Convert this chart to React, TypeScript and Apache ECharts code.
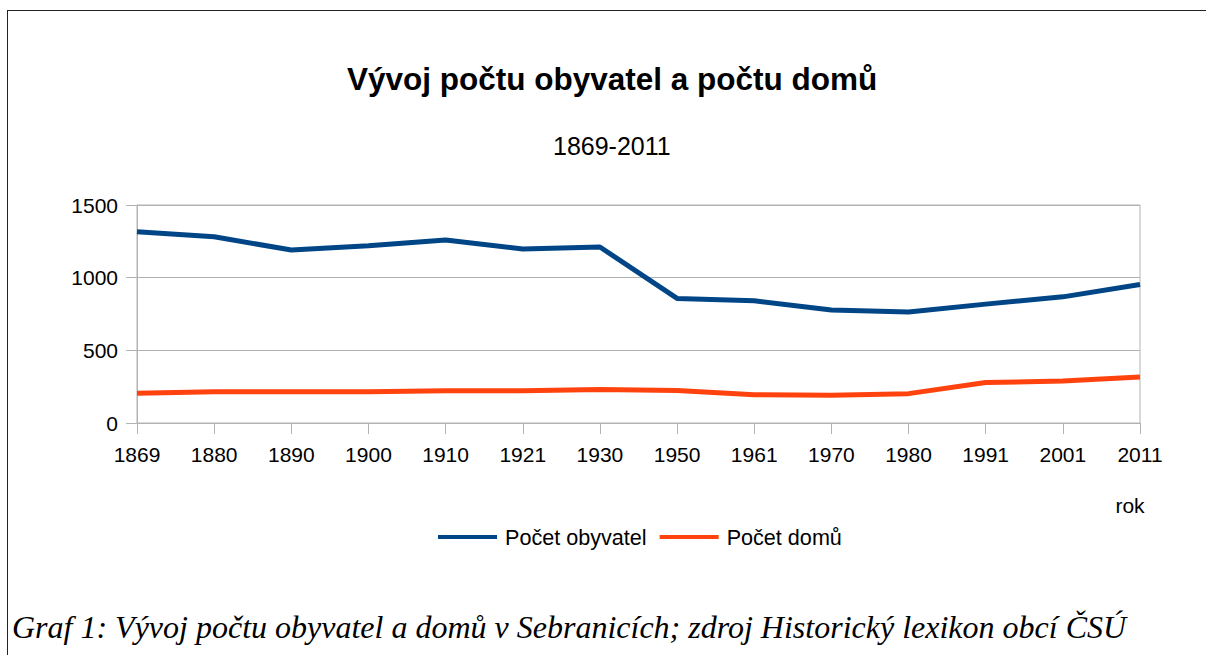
import React, { useEffect, useRef } from "react";
import * as echarts from "echarts";

const years = ["1869", "1880", "1890", "1900", "1910", "1921", "1930", "1950", "1961", "1970", "1980", "1991", "2001", "2011"];
const obyvatel = [1316, 1282, 1190, 1220, 1259, 1197, 1211, 857, 841, 777, 763, 818, 868, 953];
const domy = [204, 215, 215, 215, 222, 222, 230, 223, 195, 191, 202, 278, 289, 317];
const yTicks = [0, 500, 1000, 1500];

const titleText = "Vývoj počtu obyvatel a počtu domů";
const subtitleText = "1869-2011";
const xName = "rok";
const seriesNames = ["Počet obyvatel", "Počet domů"];
const caption = "Graf 1: Vývoj počtu obyvatel a domů v Sebranicích; zdroj Historický lexikon obcí ČSÚ";

export default function App() {
  const ref = useRef<HTMLDivElement>(null);
  useEffect(() => {
    if (!ref.current) return;
    const chart = echarts.init(ref.current, null, { renderer: "svg" });
    const sans = "'Liberation Sans', Arial, sans-serif";
    chart.setOption({
      animation: false,
      backgroundColor: "#ffffff",
      textStyle: { fontFamily: sans },
      title: [
        {
          text: titleText,
          left: 347,
          top: 63,
          padding: 0,
          textStyle: { fontFamily: sans, fontSize: 31.5, fontWeight: "bold", color: "#000" },
        },
        {
          text: subtitleText,
          left: 553,
          top: 133,
          padding: 0,
          textStyle: { fontFamily: sans, fontSize: 25, fontWeight: "normal", color: "#000" },
        },
      ],
      legend: {
        left: 438,
        top: 526,
        padding: 0,
        icon: "rect",
        itemWidth: 59,
        itemHeight: 4,
        itemGap: 13,
        textStyle: { fontFamily: sans, fontSize: 21.6, color: "#000", padding: [0, 0, 0, 3] },
        data: seriesNames,
      },
      grid: {
        left: 137,
        right: 66,
        top: 205,
        bottom: 232,
        show: true,
        borderColor: "#b3b3b3",
        borderWidth: 1,
      },
      xAxis: {
        type: "category",
        data: years,
        boundaryGap: false,
        axisLine: { lineStyle: { color: "#b3b3b3", width: 1 } },
        axisTick: { show: true, length: 11, lineStyle: { color: "#b3b3b3" } },
        axisLabel: { color: "#000", fontSize: 21, fontFamily: sans, margin: 21 },
        splitLine: { show: false },
      },
      yAxis: {
        type: "value",
        min: yTicks[0],
        max: yTicks[yTicks.length - 1],
        interval: 500,
        axisLine: { show: true, lineStyle: { color: "#b3b3b3", width: 1 } },
        axisTick: { show: true, length: 11, lineStyle: { color: "#b3b3b3" } },
        axisLabel: {
          color: "#000",
          fontSize: 21,
          fontFamily: sans,
          margin: 19,
          formatter: (v: number) => String(v),
        },
        splitLine: { show: true, lineStyle: { color: "#b3b3b3", width: 1 } },
      },
      series: [
        {
          name: seriesNames[0],
          type: "line",
          data: obyvatel,
          showSymbol: false,
          symbol: "none",
          lineStyle: { color: "#004586", width: 5 },
          itemStyle: { color: "#004586" },
        },
        {
          name: seriesNames[1],
          type: "line",
          data: domy,
          showSymbol: false,
          symbol: "none",
          lineStyle: { color: "#ff420e", width: 5 },
          itemStyle: { color: "#ff420e" },
        },
      ],
      graphic: [
        {
          type: "line",
          shape: { x1: 7, y1: 10.5, x2: 1206, y2: 10.5 },
          style: { stroke: "#222", lineWidth: 1 },
        },
        {
          type: "line",
          shape: { x1: 7.5, y1: 10, x2: 7.5, y2: 655 },
          style: { stroke: "#222", lineWidth: 1 },
        },
        {
          type: "text",
          x: 1130,
          y: 505,
          style: {
            text: xName,
            fontFamily: sans,
            fontSize: 21,
            fill: "#000",
            textAlign: "center",
            textVerticalAlign: "middle",
          },
        },
        {
          type: "text",
          x: 12,
          y: 627,
          style: {
            text: caption,
            fontFamily: "'Liberation Serif', 'Times New Roman', serif",
            fontStyle: "italic",
            fontSize: 32,
            fill: "#000",
            textAlign: "left",
            textVerticalAlign: "middle",
          },
        },
      ],
    });
    return () => chart.dispose();
  }, []);
  return (
    <div
      ref={ref}
      style={{ position: "absolute", left: 0, top: 0, width: 1206, height: 655 }}
    />
  );
}
